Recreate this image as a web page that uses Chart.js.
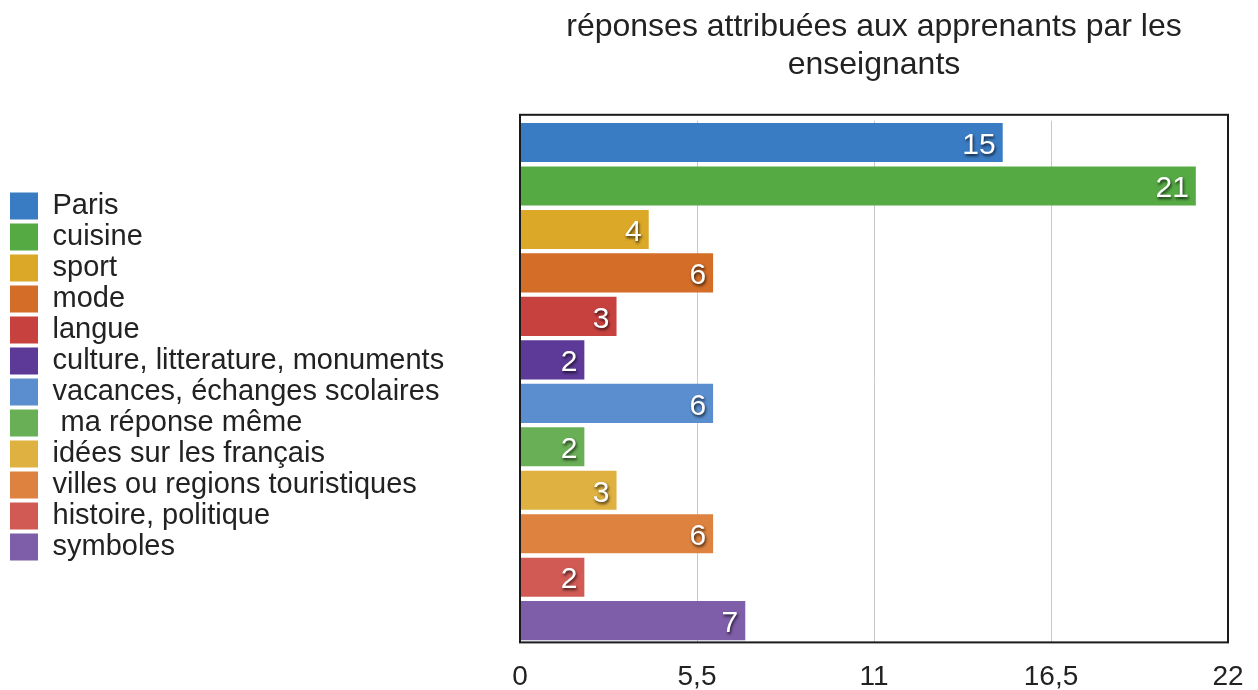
<!DOCTYPE html>
<html>
<head>
<meta charset="utf-8">
<script src="https://cdn.jsdelivr.net/npm/chart.js@4.4.0/dist/chart.umd.min.js"></script>
<style>
  html, body { margin: 0; padding: 0; background: #fff; }
  #wrap { width: 1258px; height: 690px; }
</style>
</head>
<body>
<div id="wrap"><canvas id="chart" width="1258" height="690"></canvas></div>
<script>
const titleLines = ["réponses attribuées aux apprenants par les", "enseignants"];
const categories = [
  "Paris", "cuisine", "sport", "mode", "langue",
  "culture, litterature, monuments", "vacances, échanges scolaires",
  " ma réponse même", "idées sur les français",
  "villes ou regions touristiques", "histoire, politique", "symboles"
];
const counts = [15, 21, 4, 6, 3, 2, 6, 2, 3, 6, 2, 7];
const barColors = [
  "#3a7cc4", "#56aa44", "#dba827", "#d36d27", "#c7413f", "#5d3a98",
  "#5a8ecf", "#69af55", "#dfb140", "#dd823f", "#d15a55", "#7e5ea9"
];
const xTicks = [0, 5.5, 11, 16.5, 22];

const FONT = "'Liberation Sans', Arial, Helvetica, sans-serif";
const TEXT = "#222222";

// white numbers with a dark shadow at the end of each bar
const valueLabels = {
  id: "valueLabels",
  afterDatasetsDraw(chart) {
    const ctx = chart.ctx;
    ctx.save();
    ctx.font = "30px " + FONT;
    ctx.fillStyle = "#ffffff";
    ctx.textAlign = "right";
    ctx.textBaseline = "middle";
    ctx.shadowColor = "rgba(0,0,0,0.75)";
    ctx.shadowOffsetX = 1;
    ctx.shadowOffsetY = 2;
    ctx.shadowBlur = 3;
    chart.data.datasets.forEach((ds, i) => {
      const bar = chart.getDatasetMeta(i).data[0];
      if (!bar) return;
      ctx.fillText(String(ds.data[0]), bar.x - 7, bar.y + 3);
    });
    ctx.restore();
  }
};

// black box round the plot (top edge sits a little above the first bar)
const frame = {
  id: "frame",
  afterDraw(chart) {
    const a = chart.chartArea;
    const ctx = chart.ctx;
    ctx.save();
    ctx.strokeStyle = "#1a1a1a";
    ctx.lineWidth = 2;
    ctx.strokeRect(a.left, a.top - 6, a.right - a.left, a.bottom - a.top + 6);
    ctx.restore();
  }
};

// keep the legend column wide so the plot starts further right,
// and nudge it up a little
const legendWidth = {
  id: "legendWidth",
  afterInit(chart) {
    const lg = chart.legend;
    if (!lg) return;
    const fit = lg.fit;
    lg.fit = function () {
      fit.call(this);
      this.width = Math.min(512, this.maxWidth);
    };
  },
  afterLayout(chart) {
    const lg = chart.legend;
    if (!lg) return;
    lg.top -= 5;
    lg.bottom -= 5;
  }
};

const datasets = categories.map((name, i) => ({
  label: name,
  data: [counts[i]],
  backgroundColor: barColors[i],
  borderWidth: 0,
  categoryPercentage: 1,
  barPercentage: 0.9
}));

new Chart(document.getElementById("chart"), {
  type: "bar",
  data: { labels: [""], datasets },
  plugins: [valueLabels, frame, legendWidth],
  options: {
    indexAxis: "y",
    responsive: false,
    animation: false,
    layout: { padding: { left: 8, right: 30, top: 0, bottom: -22 } },
    scales: {
      x: {
        min: 0,
        max: 22,
        afterBuildTicks(scale) {
          scale.ticks = xTicks.map(v => ({ value: v }));
        },
        afterFit(scale) {
          scale.paddingRight = 0;
        },
        grid: { color: "#c8c8c8", lineWidth: 1, drawTicks: false },
        border: { display: false },
        ticks: {
          padding: 18,
          color: TEXT,
          font: { family: FONT, size: 28 },
          callback: v => String(v).replace(".", ",")
        }
      },
      y: {
        display: false
      }
    },
    plugins: {
      tooltip: { enabled: false },
      title: {
        display: true,
        fullSize: false,
        text: titleLines,
        color: TEXT,
        font: { family: FONT, size: 32, weight: "normal", lineHeight: 1.2 },
        padding: { top: 8, bottom: 36 }
      },
      legend: {
        position: "left",
        fullSize: false,
        align: "center",
        labels: {
          boxWidth: 28,
          boxHeight: 27,
          padding: 2,
          color: TEXT,
          font: { family: FONT, size: 29 }
        }
      }
    }
  }
});
</script>
</body>
</html>
